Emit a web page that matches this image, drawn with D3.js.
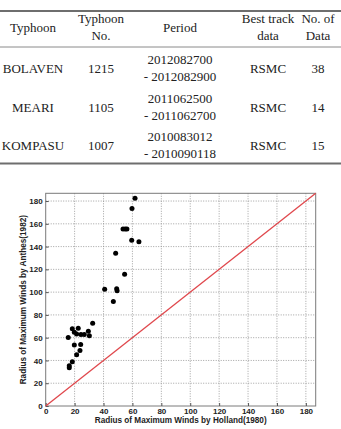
<!DOCTYPE html>
<html>
<head>
<meta charset="utf-8">
<script src="https://cdn.jsdelivr.net/npm/d3@7"></script>
<style>
  body { margin: 0; background: #fff; }
  svg { display: block; }
</style>
</head>
<body>
<div id="chart"></div>
<script>
// Table contents
const headers = [["Typhoon"], ["Typhoon", "No."], ["Period"], ["Best track", "data"], ["No. of", "Data"]];
const typhoons = ["BOLAVEN", "MEARI", "KOMPASU"];
const typhoonNo = ["1215", "1105", "1007"];
const periods = [["2012082700", "- 2012082900"], ["2011062500", "- 2011062700"], ["2010083012", "- 2010090118"]];
const bestTrack = ["RSMC", "RSMC", "RSMC"];
const nData = ["38", "14", "15"];

// Scatter data: Holland(1980) vs Anthes(1982)
const hollandR = [61.8, 59.7, 53.5, 55.0, 56.2, 59.5, 64.5, 48.4, 54.6, 40.8, 49.1, 49.4, 46.8,
                  32.5, 18.4, 22.5, 15.6, 19.8, 21.4, 24.4, 26.7, 29.5, 30.2, 19.8, 24.2, 23.7,
                  21.4, 18.4, 16.3, 16.3];
const anthesR  = [182.5, 173.4, 155.4, 155.4, 155.4, 145.6, 144.3, 134.1, 115.8, 102.6, 103.0, 101.3, 91.7,
                  72.7, 67.9, 68.3, 60.2, 64.8, 63.2, 62.8, 62.8, 65.6, 61.8, 53.6, 54.0, 48.8,
                  44.9, 38.8, 35.4, 33.7];
const ticks = [0, 20, 40, 60, 80, 100, 120, 140, 160, 180];

const width = 341, height = 429;
const svg = d3.select("#chart").append("svg")
    .attr("width", width)
    .attr("height", height);

// ---------- table ----------
const colX = [33, 101, 180, 268, 318];
const serif = "'Liberation Serif', 'Times New Roman', serif";

svg.append("line").attr("x1", 0).attr("x2", width).attr("y1", 11).attr("y2", 11)
    .attr("stroke", "#6e6e6e").attr("stroke-width", 2.2);
svg.append("line").attr("x1", 0).attr("x2", width).attr("y1", 47).attr("y2", 47)
    .attr("stroke", "#8a8a8a").attr("stroke-width", 1);
svg.append("line").attr("x1", 0).attr("x2", width).attr("y1", 163.5).attr("y2", 163.5)
    .attr("stroke", "#6e6e6e").attr("stroke-width", 2);

const cell = (x, yc, lines) => {
    const t = svg.append("text")
        .attr("text-anchor", "middle")
        .attr("font-family", serif)
        .attr("font-size", 13)
        .attr("fill", "#222");
    const n = lines.length;
    lines.forEach((s, i) => {
        t.append("tspan")
            .attr("x", x)
            .attr("y", yc + 4.5 + (i - (n - 1) / 2) * 17)
            .text(s);
    });
};

headers.forEach((h, i) => cell(colX[i], 27, h));
const rowY = [68, 107, 145];
typhoons.forEach((name, i) => {
    cell(colX[0], rowY[i], [name]);
    cell(colX[1], rowY[i], [typhoonNo[i]]);
    cell(colX[2], rowY[i], periods[i]);
    cell(colX[3], rowY[i], [bestTrack[i]]);
    cell(colX[4], rowY[i], [nData[i]]);
});

// ---------- scatter ----------
const plot = {left: 45.7, right: 315.7, top: 193.3, bottom: 406};
const domainMax = 186.8;
const x = d3.scaleLinear().domain([0, domainMax]).range([plot.left, plot.right]);
const y = d3.scaleLinear().domain([0, domainMax]).range([plot.bottom, plot.top]);
const sans = "'Liberation Sans', Arial, sans-serif";

const g = svg.append("g");

// grid
g.selectAll(".gx").data(ticks.filter(d => d > 0)).enter().append("line")
    .attr("x1", d => x(d)).attr("x2", d => x(d))
    .attr("y1", plot.top).attr("y2", plot.bottom)
    .attr("stroke", "#8a8a8a").attr("stroke-width", 0.8).attr("stroke-dasharray", "1,1.5");
g.selectAll(".gy").data(ticks.filter(d => d > 0)).enter().append("line")
    .attr("y1", d => y(d)).attr("y2", d => y(d))
    .attr("x1", plot.left).attr("x2", plot.right)
    .attr("stroke", "#8a8a8a").attr("stroke-width", 0.8).attr("stroke-dasharray", "1,1.5");

// box
g.append("rect")
    .attr("x", plot.left).attr("y", plot.top)
    .attr("width", plot.right - plot.left).attr("height", plot.bottom - plot.top)
    .attr("fill", "none").attr("stroke", "#7a7a7a").attr("stroke-width", 1);

// axes
const xAxis = g.append("g")
    .attr("transform", `translate(0,${plot.bottom})`)
    .call(d3.axisBottom(x).tickValues(ticks).tickSize(-3).tickPadding(4));
const yAxis = g.append("g")
    .attr("transform", `translate(${plot.left},0)`)
    .call(d3.axisLeft(y).tickValues(ticks).tickSize(-3).tickPadding(3));
[xAxis, yAxis].forEach(a => {
    a.select(".domain").remove();
    a.selectAll(".tick line").attr("stroke", "#555");
    a.selectAll("text")
        .attr("font-family", sans)
        .attr("font-size", 8)
        .attr("font-weight", "bold")
        .attr("fill", "#222");
});
xAxis.selectAll("text").attr("dy", "0.55em");

// 1:1 line
g.append("line")
    .attr("x1", x(0)).attr("y1", y(0))
    .attr("x2", x(domainMax)).attr("y2", y(domainMax))
    .attr("stroke", "#e0474c").attr("stroke-width", 1.3);

// points
g.selectAll("circle").data(hollandR.map((h, i) => [h, anthesR[i]])).enter().append("circle")
    .attr("cx", d => x(d[0]))
    .attr("cy", d => y(d[1]))
    .attr("r", 2.5)
    .attr("fill", "#000");

// axis titles
svg.append("text")
    .attr("x", (plot.left + plot.right) / 2)
    .attr("y", 423)
    .attr("text-anchor", "middle")
    .attr("font-family", sans).attr("font-size", 8.2).attr("font-weight", "bold")
    .attr("fill", "#222")
    .text("Radius of Maximum Winds by Holland(1980)");
svg.append("text")
    .attr("transform", `translate(26,${(plot.top + plot.bottom) / 2}) rotate(-90)`)
    .attr("text-anchor", "middle")
    .attr("font-family", sans).attr("font-size", 8.2).attr("font-weight", "bold")
    .attr("fill", "#222")
    .text("Radius of Maximum Winds by Anthes(1982)");
</script>
</body>
</html>
